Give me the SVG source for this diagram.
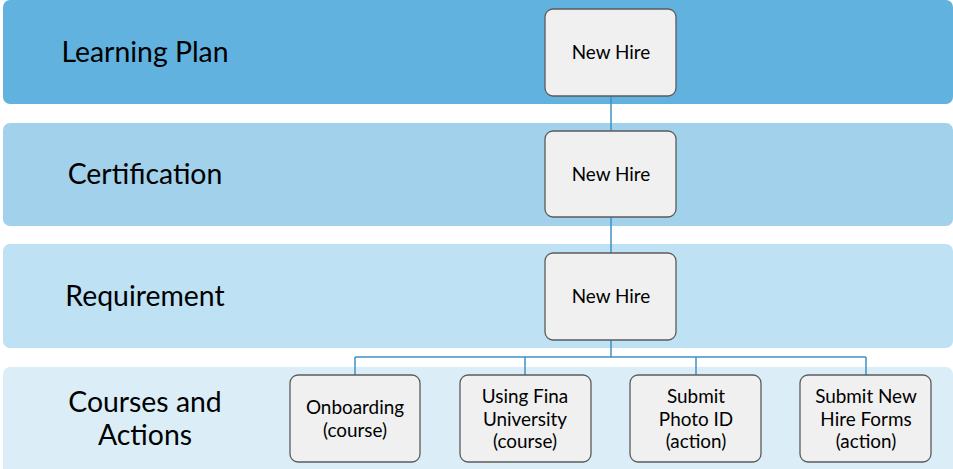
<svg xmlns="http://www.w3.org/2000/svg" width="953" height="469" viewBox="0 0 953 469">
<style>
.band{stroke:none}
.lbl{font-family:Lato,"Open Sans","Liberation Sans",sans-serif;font-size:28.4px;fill:#000;text-anchor:middle}
.box{fill:#f0f0f0;stroke:#5b5b5b;stroke-width:1.3}
.t{font-family:Lato,"Open Sans","Liberation Sans",sans-serif;font-size:18.9px;fill:#000;text-anchor:middle}
.c{fill:none;stroke:#3f91c6;stroke-width:1.5}
</style>
<g id="bands">
<rect class="band" x="3" y="0" width="950" height="104" rx="7" fill="#62b2df"/>
<rect class="band" x="3" y="123" width="950" height="103" rx="7" fill="#a1d1eb"/>
<rect class="band" x="3" y="244" width="950" height="104" rx="7" fill="#bee1f4"/>
<rect class="band" x="3" y="367" width="950" height="110" rx="7" fill="#dbeef8"/>
</g>
<g id="labels">
<text class="lbl" x="145" y="62">Learning Plan</text>
<text class="lbl" x="145" y="184">Certification</text>
<text class="lbl" x="145" y="306">Requirement</text>
<text class="lbl" x="145" y="412">Courses and</text>
<text class="lbl" x="145" y="445">Actions</text>
</g>
<g id="connectors">
<path class="c" d="M611 96V131M611 217V253M611 340V357M355 357H866M355 357V375M525 357V375M696 357V375M866 357V375"/>
</g>
<g id="node-lp"><rect class="box" x="545" y="9" width="131" height="87" rx="8"/><text class="t" x="611" y="59">New Hire</text></g>
<g id="node-cert"><rect class="box" x="545" y="131" width="131" height="86" rx="8"/><text class="t" x="611" y="181">New Hire</text></g>
<g id="node-req"><rect class="box" x="545" y="253" width="131" height="87" rx="8"/><text class="t" x="611" y="303">New Hire</text></g>
<g id="node-onb"><rect class="box" x="290" y="375" width="130" height="87" rx="8"/><text class="t" x="355" y="414">Onboarding</text><text class="t" x="355" y="437">(course)</text></g>
<g id="node-fina"><rect class="box" x="460" y="375" width="131" height="87" rx="8"/><text class="t" x="525" y="403">Using Fina</text><text class="t" x="525" y="426">University</text><text class="t" x="525" y="448">(course)</text></g>
<g id="node-photo"><rect class="box" x="630" y="375" width="131" height="87" rx="8"/><text class="t" x="696" y="403">Submit</text><text class="t" x="696" y="426">Photo ID</text><text class="t" x="696" y="448">(action)</text></g>
<g id="node-forms"><rect class="box" x="800" y="375" width="131" height="87" rx="8"/><text class="t" x="866" y="403">Submit New</text><text class="t" x="866" y="426">Hire Forms</text><text class="t" x="866" y="448">(action)</text></g>
</svg>
